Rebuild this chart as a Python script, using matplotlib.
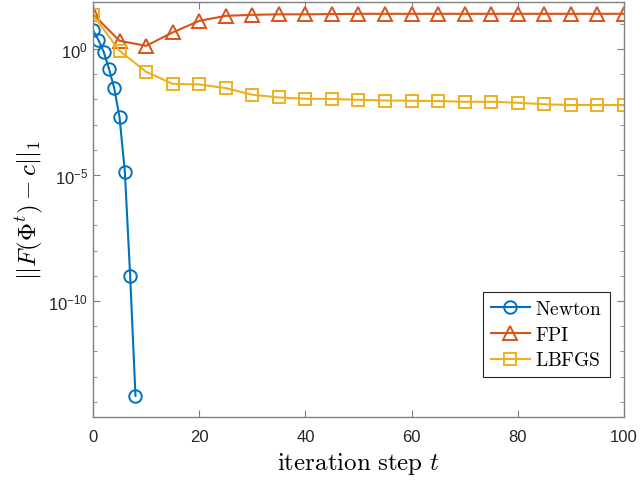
import numpy as np
import matplotlib
matplotlib.use("Agg")
import matplotlib.pyplot as plt
from matplotlib.ticker import FixedLocator, NullFormatter

plt.rcParams['mathtext.fontset'] = 'cm'
plt.rcParams['font.family'] = ['Liberation Sans', 'DejaVu Sans']

# values (log10 of the residual)
newton_t = [0, 1, 2, 3, 4, 5, 6, 7, 8]
newton_log = [0.75, 0.37, -0.1, -0.77, -1.55, -2.71, -4.87, -9.0, -13.76]

fpi_t = list(range(0, 101, 5))
fpi_log = [1.38, 0.33, 0.13, 0.66, 1.12, 1.32, 1.36, 1.38, 1.38, 1.39, 1.40,
           1.40, 1.40, 1.40, 1.40, 1.40, 1.40, 1.40, 1.40, 1.40, 1.40]

lbfgs_t = list(range(0, 101, 5))
lbfgs_log = [1.35, -0.07, -0.9, -1.38, -1.40, -1.55, -1.81, -1.92, -1.97, -1.98, -2.01,
             -2.04, -2.05, -2.06, -2.09, -2.09, -2.13, -2.19, -2.22, -2.22, -2.22]

c_newton = '#0072BD'
c_fpi = '#D95319'
c_lbfgs = '#EDB120'

fig = plt.figure(figsize=(6.4, 4.81), dpi=100)
ax = fig.add_axes([0.1453, 0.131, 0.8297, 0.8628])

ax.semilogy(newton_t, 10.0 ** np.array(newton_log), '-o', color=c_newton, lw=1.5,
            ms=9, mfc='none', mew=1.4, label=r'$\mathrm{Newton}$')
ax.semilogy(fpi_t, 10.0 ** np.array(fpi_log), '-^', color=c_fpi, lw=1.5,
            ms=10, mfc='none', mew=1.4, label=r'$\mathrm{FPI}$')
ax.semilogy(lbfgs_t, 10.0 ** np.array(lbfgs_log), '-s', color=c_lbfgs, lw=1.5,
            ms=8.5, mfc='none', mew=1.4, label=r'$\mathrm{LBFGS}$')

ax.set_xlim(0, 100)
ax.set_ylim(10 ** -14.6, 10 ** 1.87)
ax.set_xticks([0, 20, 40, 60, 80, 100])
ax.yaxis.set_major_locator(FixedLocator([1e-10, 1e-5, 1e0]))
ax.yaxis.set_minor_locator(FixedLocator([10.0 ** k for k in range(-14, 2)]))
ax.yaxis.set_minor_formatter(NullFormatter())

for s in ax.spines.values():
    s.set_color('#808080')
    s.set_linewidth(1.0)
ax.tick_params(which='both', direction='in', top=True, right=True, colors='#808080',
               labelcolor='#262626', labelsize=12)
ax.tick_params(which='major', length=5)
ax.tick_params(which='minor', length=3)
ax.tick_params(axis='x', pad=9)

ax.set_xlabel(r'$\mathrm{iteration\ step}\ t$', fontsize=18, labelpad=4)
ax.set_ylabel(r'$||F(\Phi^t)-c||_1$', fontsize=18, labelpad=2)

leg = ax.legend(loc='lower right', bbox_to_anchor=(0.974, 0.096), fontsize=14,
                fancybox=False, framealpha=1, edgecolor='#262626',
                handlelength=2.0, handletextpad=0.3, borderpad=0.4, labelspacing=0.4,
                borderaxespad=0)
leg.get_frame().set_linewidth(0.8)

fig.savefig('out.png', dpi=100)
